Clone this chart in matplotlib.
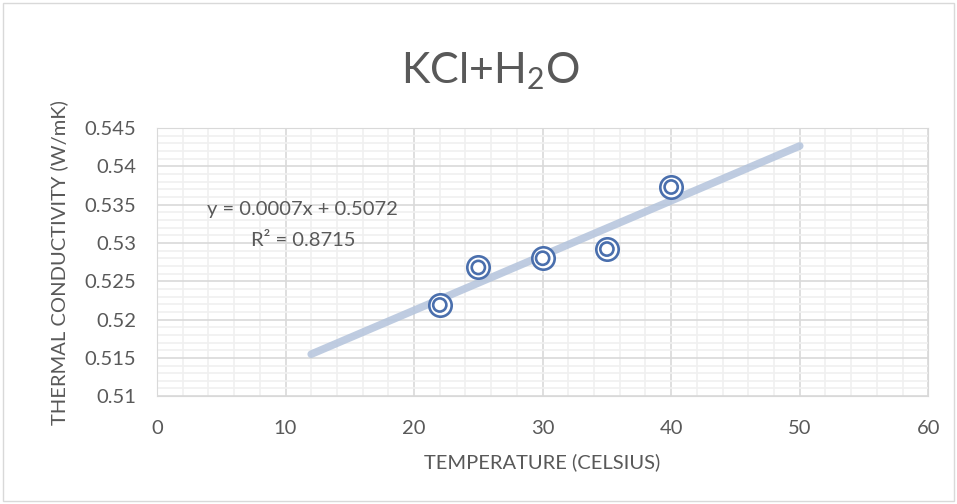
import numpy as np
import matplotlib
matplotlib.use("Agg")
import matplotlib.pyplot as plt
from matplotlib.ticker import MultipleLocator
from matplotlib.patches import Rectangle

temperature = [22, 25, 30, 35, 40]
conductivity = [0.5219, 0.5268, 0.5280, 0.5292, 0.5373]
trend_range = [12, 50]
ytick_vals = [0.51, 0.515, 0.52, 0.525, 0.53, 0.535, 0.54, 0.545]
ytick_labels = ['0.51', '0.515', '0.52', '0.525', '0.53', '0.535', '0.54', '0.545']

plt.rcParams['font.family'] = ['Lato', 'DejaVu Sans']
plt.rcParams['mathtext.fontset'] = 'custom'
plt.rcParams['mathtext.rm'] = 'Lato'
txt = '#595959'

fig = plt.figure(figsize=(9.57, 5.04), dpi=100)
ax = fig.add_axes([0.164, 0.214, 0.806, 0.532])

# excel style trendline
slope, icpt = np.polyfit(temperature, conductivity, 1)
xt = np.array(trend_range)
ax.plot(xt, slope * xt + icpt, color='#b4c4dc', lw=5.5, alpha=0.85,
        solid_capstyle='round', zorder=3)

# double circle markers
ax.scatter(temperature, conductivity, s=260, facecolors='white',
           edgecolors='#4a6fad', linewidths=1.9, zorder=4)
ax.scatter(temperature, conductivity, s=90, facecolors='none',
           edgecolors='#4a6fad', linewidths=1.9, zorder=5)

ax.set_xlim(0, 60)
ax.set_ylim(0.51, 0.545)
ax.xaxis.set_major_locator(MultipleLocator(10))
ax.xaxis.set_minor_locator(MultipleLocator(2))
ax.set_yticks(ytick_vals)
ax.set_yticklabels(ytick_labels)
ax.yaxis.set_minor_locator(MultipleLocator(0.001))
ax.grid(which='major', color='#d9d9d9', lw=1.2)
ax.grid(which='minor', color='#f0f0f0', lw=1.2)
ax.set_axisbelow(True)
for s in ax.spines.values():
    s.set_color('#d9d9d9')
ax.tick_params(which='both', length=0, labelsize=14.5, colors=txt)
ax.tick_params(axis='x', pad=17)
ax.tick_params(axis='y', pad=15)

ax.set_xlabel('TEMPERATURE (CELSIUS)', fontsize=14.5, color=txt, labelpad=12)
ax.set_ylabel('THERMAL CONDUCTIVITY (W/mK)', fontsize=14.5, color=txt, labelpad=12)

fig.text(0.512, 0.86, 'KCl+H$_2$O', ha='center', va='center', fontsize=31, color=txt)

ax.text(11.3, 0.5343, 'y = 0.0007x + 0.5072', ha='center', va='center',
        fontsize=14.5, color=txt)
ax.text(11.4, 0.5303, 'R² = 0.8715', ha='center', va='center',
        fontsize=14.5, color=txt)

fig.patches.append(Rectangle((0.003, 0.005), 0.994, 0.99, transform=fig.transFigure,
                             fill=False, edgecolor='#d9d9d9', lw=1))

fig.savefig('out.png', dpi=100)
